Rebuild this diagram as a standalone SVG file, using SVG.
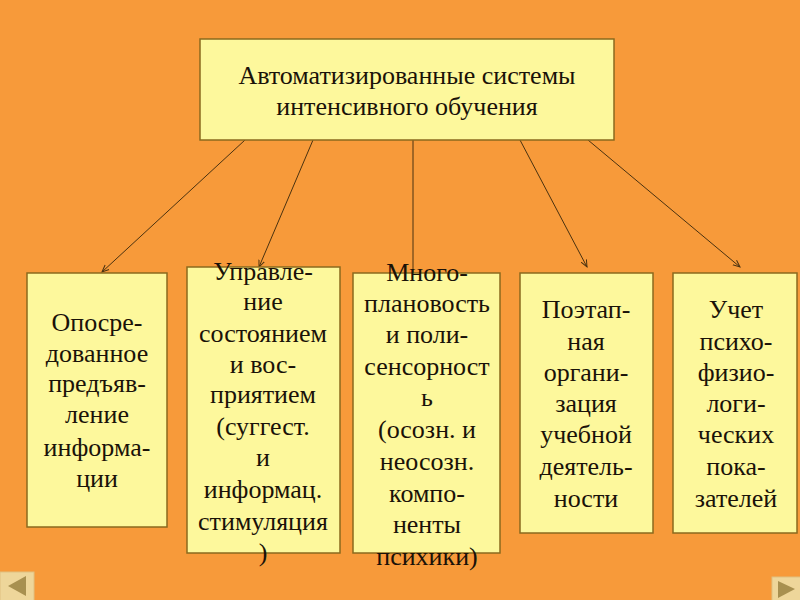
<svg xmlns="http://www.w3.org/2000/svg" width="800" height="600" viewBox="0 0 800 600">
<defs>
<style>
.box{fill:#FDF89C;stroke:#8A6A1E;stroke-width:1.5}
.t{font-family:'Liberation Serif','Times New Roman','DejaVu Serif',serif;font-size:26px;fill:#1a1208;text-anchor:middle}
.tt{font-family:'Liberation Serif','Times New Roman','DejaVu Serif',serif;font-size:26px;fill:#1a1208;text-anchor:middle}
.c{stroke:#4a3210;stroke-width:1;fill:none}
.nav{fill:#EED69A;stroke:#E0C080;stroke-width:1}
.tri{fill:#A89050}
</style>
<marker id="ah" markerWidth="8" markerHeight="8" refX="7" refY="4" orient="auto" markerUnits="userSpaceOnUse">
<path d="M0,1 L7,4 L0,7" fill="none" stroke="#4a3210" stroke-width="1"/>
</marker>
</defs>
<rect width="800" height="600" fill="#F79A3A"/>
<g id="connectors">
<line class="c" x1="245" y1="140" x2="102" y2="272" marker-end="url(#ah)"/>
<line class="c" x1="313" y1="140" x2="259" y2="267" marker-end="url(#ah)"/>
<line class="c" x1="413" y1="140" x2="413" y2="274"/>
<line class="c" x1="520" y1="140" x2="587" y2="267" marker-end="url(#ah)"/>
<line class="c" x1="588" y1="140" x2="740" y2="267" marker-end="url(#ah)"/>
</g>
<g id="top">
<rect class="box" x="200" y="39" width="414" height="101"/>
<text class="tt" x="407" y="84">Автоматизированные системы</text>
<text class="tt" x="407" y="115">интенсивного обучения</text>
</g>
<g id="n1">
<rect class="box" x="27" y="273" width="140" height="254"/>
<text class="t" x="97" y="331">Опосре-</text>
<text class="t" x="97" y="362">дованное</text>
<text class="t" x="97" y="392">предъяв-</text>
<text class="t" x="97" y="423">ление</text>
<text class="t" x="97" y="456">информа-</text>
<text class="t" x="97" y="487">ции</text>
</g>
<g id="n2">
<rect class="box" x="187" y="267" width="153" height="286"/>
<text class="t" x="263" y="280">Управле-</text>
<text class="t" x="263" y="310">ние</text>
<text class="t" x="263" y="342">состоянием</text>
<text class="t" x="263" y="373">и вос-</text>
<text class="t" x="263" y="403">приятием</text>
<text class="t" x="263" y="435">(суггест.</text>
<text class="t" x="263" y="466">и</text>
<text class="t" x="263" y="498">информац.</text>
<text class="t" x="263" y="530">стимуляция</text>
<text class="t" x="263" y="561">)</text>
</g>
<g id="n3">
<rect class="box" x="353" y="273" width="147" height="280"/>
<text class="t" x="427" y="281">Много-</text>
<text class="t" x="427" y="312">плановость</text>
<text class="t" x="427" y="343">и поли-</text>
<text class="t" x="427" y="375">сенсорност</text>
<text class="t" x="427" y="406">ь</text>
<text class="t" x="427" y="438">(осозн. и</text>
<text class="t" x="427" y="470">неосозн.</text>
<text class="t" x="427" y="502">компо-</text>
<text class="t" x="427" y="533">ненты</text>
<text class="t" x="427" y="565">психики)</text>
</g>
<g id="n4">
<rect class="box" x="520" y="273" width="133" height="260"/>
<text class="t" x="586" y="318">Поэтап-</text>
<text class="t" x="586" y="350">ная</text>
<text class="t" x="586" y="381">органи-</text>
<text class="t" x="586" y="412">зация</text>
<text class="t" x="586" y="443">учебной</text>
<text class="t" x="586" y="475">деятель-</text>
<text class="t" x="586" y="507">ности</text>
</g>
<g id="n5">
<rect class="box" x="673" y="273" width="124" height="260"/>
<text class="t" x="736" y="318">Учет</text>
<text class="t" x="736" y="350">психо-</text>
<text class="t" x="736" y="381">физио-</text>
<text class="t" x="736" y="412">логи-</text>
<text class="t" x="736" y="443">ческих</text>
<text class="t" x="736" y="475">пока-</text>
<text class="t" x="736" y="507">зателей</text>
</g>
<g id="nav">
<rect class="nav" x="0" y="572" width="34" height="30"/>
<path class="tri" d="M8,586 L26,576 L26,596 Z"/>
<rect class="nav" x="772" y="577" width="30" height="25"/>
<path class="tri" d="M778,581 L795,589 L778,598 Z"/>
</g>
</svg>
